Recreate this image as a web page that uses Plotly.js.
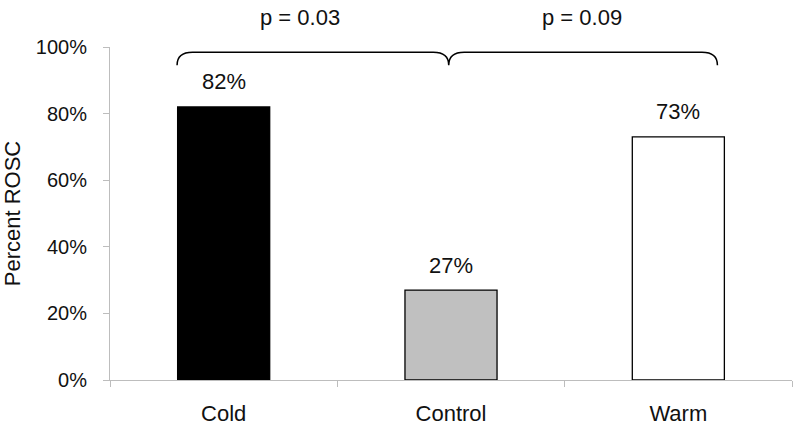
<!DOCTYPE html>
<html>
<head>
<meta charset="utf-8">
<script src="https://cdn.plot.ly/plotly-3.0.1.min.js"></script>
<style>html,body{margin:0;padding:0;background:#fff;}#chart{width:800px;height:429px;}</style>
</head>
<body>
<div id="chart"></div>
<script>
// ---- data ----
var categories = ["Cold", "Control", "Warm"];
var percentROSC = [82, 27, 73];
var valueLabels = ["82%", "27%", "73%"];
var pLabels = ["p = 0.03", "p = 0.09"];
var yTickVals = [0, 20, 40, 60, 80, 100];
var yTickText = ["0%", "20%", "40%", "60%", "80%", "100%"];

// ---- styles ----
var barFill = ["#000000", "#c0c0c0", "#ffffff"];
var barEdge = ["#000000", "#000000", "#000000"];
var FONT = "Liberation Sans, Arial, Helvetica, sans-serif";
var FS = 20, FL = 22;
var TXT = "#111111";
var AX = "#bdbdbd";

// brace geometry (x in category-index units, y in % units)
var braceY0 = 94.5, braceY1 = 98.4, rx = 0.068;
var braceL = -0.205, braceM = 0.99, braceR = 2.172;
function bracePath() {
  return "M " + braceL + "," + braceY0 +
    " Q " + braceL + "," + braceY1 + " " + (braceL + rx) + "," + braceY1 +
    " L " + (braceM - rx) + "," + braceY1 +
    " Q " + braceM + "," + braceY1 + " " + braceM + "," + braceY0 +
    " Q " + braceM + "," + braceY1 + " " + (braceM + rx) + "," + braceY1 +
    " L " + (braceR - rx) + "," + braceY1 +
    " Q " + braceR + "," + braceY1 + " " + braceR + "," + braceY0;
}

var trace = {
  type: "bar",
  x: categories,
  y: percentROSC,
  marker: { color: barFill, line: { color: barEdge, width: 1.3 } },
  hoverinfo: "none",
  showlegend: false
};

var annotations = [];
for (var i = 0; i < categories.length; i++) {
  annotations.push({
    x: categories[i], y: percentROSC[i], xref: "x", yref: "y",
    text: valueLabels[i], showarrow: false, yshift: 25, yanchor: "middle",
    font: { family: FONT, size: FL, color: TXT }
  });
}
var pX = [0.337, 1.578];
for (var j = 0; j < pLabels.length; j++) {
  annotations.push({
    x: pX[j], y: 1.088, xref: "x2", yref: "paper", yanchor: "middle",
    text: pLabels[j], showarrow: false,
    font: { family: FONT, size: FL, color: TXT }
  });
}

var layout = {
  width: 800, height: 429,
  margin: { l: 110, r: 8, t: 46.5, b: 48.5 },
  paper_bgcolor: "#ffffff", plot_bgcolor: "#ffffff",
  bargap: 0.595,
  font: { family: FONT, size: FS, color: TXT },
  xaxis: {
    type: "category",
    range: [-0.5, 2.5],
    showline: true, linecolor: AX, linewidth: 1,
    ticks: "outside", tickson: "boundaries", ticklen: 6, tickcolor: AX, tickwidth: 1,
    showgrid: false, zeroline: false,
    ticklabelstandoff: 14,
    tickfont: { family: FONT, size: FL, color: TXT },
    fixedrange: true
  },
  xaxis2: {
    type: "linear", range: [-0.5, 2.5], overlaying: "x",
    visible: false, fixedrange: true
  },
  yaxis: {
    range: [0, 100],
    tickvals: yTickVals, ticktext: yTickText,
    showline: true, linecolor: AX, linewidth: 1,
    ticks: "outside", ticklen: 6, tickcolor: AX, tickwidth: 1,
    showgrid: false, zeroline: false,
    ticklabelstandoff: 12,
    tickfont: { family: FONT, size: FS, color: TXT },
    title: { text: "Percent ROSC", font: { family: FONT, size: FL, color: TXT }, standoff: 12 },
    fixedrange: true
  },
  shapes: [{
    type: "path", xref: "x2", yref: "y",
    path: bracePath(),
    line: { color: "#000000", width: 1.5 }
  }],
  annotations: annotations
};

Plotly.newPlot("chart", [trace], layout, { displayModeBar: false, staticPlot: true });
</script>
</body>
</html>
